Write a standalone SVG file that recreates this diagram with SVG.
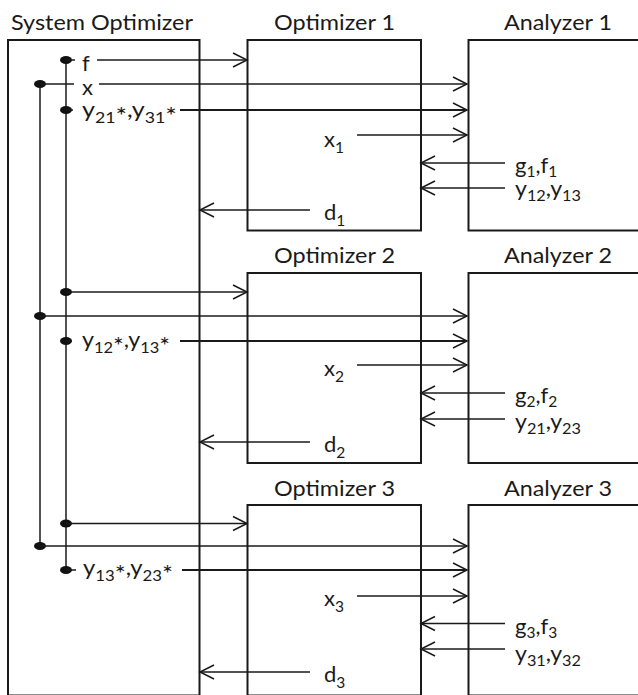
<svg xmlns="http://www.w3.org/2000/svg" width="638" height="695" viewBox="0 0 638 695">
<defs>
<style>
.box{fill:none;stroke:#1a1a1a;stroke-width:2}
.ln{fill:none;stroke:#1a1a1a;stroke-width:1.5}
.lnb{fill:none;stroke:#1a1a1a;stroke-width:2}
.arr{marker-end:url(#ah)}
.dot{fill:#111}
text{font-family:Lato,"Open Sans","Liberation Sans",sans-serif;font-size:21px;fill:#1a1a1a}
.lbl{font-size:22px}
.sub{font-size:15.5px}
.ast{font-size:24px}
</style>
<marker id="ah" markerUnits="userSpaceOnUse" markerWidth="18" markerHeight="18" viewBox="0 0 18 18" refX="16" refY="9" orient="auto" overflow="visible">
<path d="M2,2 L16,9 L2,16" fill="none" stroke="#1a1a1a" stroke-width="1.5"/>
</marker>
</defs>
<rect width="638" height="695" fill="#fff"/>

<g id="system-optimizer">
<rect class="box" x="8" y="40" width="191.5" height="655.5"/>
<text x="11" y="30" textLength="182" lengthAdjust="spacingAndGlyphs">System Optimizer</text>
<text class="lbl" x="82" y="71">f</text>
<text class="lbl" x="82" y="94.5">x</text>
<text class="lbl" x="82" y="116.5" textLength="95" lengthAdjust="spacingAndGlyphs">y<tspan class="sub" dy="6">21</tspan><tspan class="ast" dy="1">*</tspan><tspan dy="-7">,y</tspan><tspan class="sub" dy="6">31</tspan><tspan class="ast" dy="1">*</tspan></text>
<text class="lbl" x="82" y="347" textLength="88" lengthAdjust="spacingAndGlyphs">y<tspan class="sub" dy="6">12</tspan><tspan class="ast" dy="1">*</tspan><tspan dy="-7">,y</tspan><tspan class="sub" dy="6">13</tspan><tspan class="ast" dy="1">*</tspan></text>
<text class="lbl" x="83" y="575" textLength="90" lengthAdjust="spacingAndGlyphs">y<tspan class="sub" dy="6">13</tspan><tspan class="ast" dy="1">*</tspan><tspan dy="-7">,y</tspan><tspan class="sub" dy="6">23</tspan><tspan class="ast" dy="1">*</tspan></text>
</g>

<g id="optimizer-1">
<rect class="box" x="247.5" y="40" width="173.5" height="190.5"/>
<text x="274" y="30" textLength="121" lengthAdjust="spacingAndGlyphs">Optimizer 1</text>
<text class="lbl" x="324" y="146.5">x<tspan class="sub" dy="6">1</tspan></text>
<text class="lbl" x="324" y="220">d<tspan class="sub" dy="6">1</tspan></text>
</g>
<g id="analyzer-1">
<rect class="box" x="468.5" y="40" width="200" height="190.5"/>
<text x="504" y="30" textLength="108" lengthAdjust="spacingAndGlyphs">Analyzer 1</text>
<text class="lbl" x="515" y="172.5">g<tspan class="sub" dy="4">1</tspan><tspan dy="-4">,f</tspan><tspan class="sub" dy="4">1</tspan></text>
<text class="lbl" x="515" y="195.5" textLength="66" lengthAdjust="spacingAndGlyphs">y<tspan class="sub" dy="5">12</tspan><tspan dy="-5">,y</tspan><tspan class="sub" dy="5">13</tspan></text>
</g>

<g id="optimizer-2">
<rect class="box" x="247.5" y="273" width="173.5" height="190"/>
<text x="274" y="263" textLength="121" lengthAdjust="spacingAndGlyphs">Optimizer 2</text>
<text class="lbl" x="324" y="376">x<tspan class="sub" dy="6">2</tspan></text>
<text class="lbl" x="324" y="452">d<tspan class="sub" dy="6">2</tspan></text>
</g>
<g id="analyzer-2">
<rect class="box" x="468.5" y="273" width="200" height="190"/>
<text x="504" y="263" textLength="108" lengthAdjust="spacingAndGlyphs">Analyzer 2</text>
<text class="lbl" x="515" y="402.5">g<tspan class="sub" dy="4">2</tspan><tspan dy="-4">,f</tspan><tspan class="sub" dy="4">2</tspan></text>
<text class="lbl" x="515" y="428.5" textLength="66" lengthAdjust="spacingAndGlyphs">y<tspan class="sub" dy="5">21</tspan><tspan dy="-5">,y</tspan><tspan class="sub" dy="5">23</tspan></text>
</g>

<g id="optimizer-3">
<rect class="box" x="247.5" y="505" width="173.5" height="190.5"/>
<text x="274" y="495.5" textLength="121" lengthAdjust="spacingAndGlyphs">Optimizer 3</text>
<text class="lbl" x="324" y="606">x<tspan class="sub" dy="6">3</tspan></text>
<text class="lbl" x="324" y="682">d<tspan class="sub" dy="6">3</tspan></text>
</g>
<g id="analyzer-3">
<rect class="box" x="468.5" y="505" width="200" height="190.5"/>
<text x="504" y="495.5" textLength="108" lengthAdjust="spacingAndGlyphs">Analyzer 3</text>
<text class="lbl" x="515" y="633.5">g<tspan class="sub" dy="4">3</tspan><tspan dy="-4">,f</tspan><tspan class="sub" dy="4">3</tspan></text>
<text class="lbl" x="515" y="660.5" textLength="66" lengthAdjust="spacingAndGlyphs">y<tspan class="sub" dy="5">31</tspan><tspan dy="-5">,y</tspan><tspan class="sub" dy="5">32</tspan></text>
</g>

<g id="connectors">
<line class="ln" x1="40" y1="84" x2="40" y2="546"/>
<line class="ln" x1="66" y1="60" x2="66" y2="570"/>
<ellipse class="dot" cx="66" cy="60" rx="6" ry="4"/>
<ellipse class="dot" cx="40" cy="84" rx="6" ry="4"/>
<ellipse class="dot" cx="66" cy="110" rx="6" ry="4"/>
<ellipse class="dot" cx="66" cy="292" rx="6" ry="4"/>
<ellipse class="dot" cx="40" cy="316" rx="6" ry="4"/>
<ellipse class="dot" cx="66" cy="341" rx="6" ry="4"/>
<ellipse class="dot" cx="66" cy="523.5" rx="6" ry="4"/>
<ellipse class="dot" cx="40" cy="546" rx="6" ry="4"/>
<ellipse class="dot" cx="66" cy="570" rx="6" ry="4"/>

<line class="ln" x1="66" y1="60" x2="75" y2="60"/>
<line class="ln arr" x1="97" y1="60" x2="247" y2="60"/>
<line class="ln" x1="40" y1="84" x2="74" y2="84"/>
<line class="ln arr" x1="99" y1="84" x2="467" y2="84"/>
<line class="ln" x1="66" y1="110" x2="73" y2="110"/>
<line class="lnb arr" x1="180" y1="110" x2="467" y2="110"/>
<line class="ln arr" x1="357" y1="135" x2="467" y2="135"/>
<line class="ln arr" x1="505" y1="163" x2="421" y2="163"/>
<line class="ln arr" x1="505" y1="188" x2="421" y2="188"/>
<line class="ln arr" x1="310" y1="210" x2="200" y2="210"/>

<line class="ln arr" x1="66" y1="292" x2="247" y2="292"/>
<line class="ln arr" x1="40" y1="316" x2="467" y2="316"/>
<line class="ln" x1="66" y1="341" x2="72" y2="341"/>
<line class="lnb arr" x1="180" y1="341" x2="467" y2="341"/>
<line class="ln arr" x1="357" y1="365" x2="467" y2="365"/>
<line class="ln arr" x1="505" y1="393" x2="421" y2="393"/>
<line class="ln arr" x1="505" y1="419" x2="421" y2="419"/>
<line class="ln arr" x1="310" y1="442" x2="200" y2="442"/>

<line class="ln arr" x1="66" y1="523.5" x2="247" y2="523.5"/>
<line class="ln arr" x1="40" y1="546" x2="467" y2="546"/>
<line class="ln" x1="66" y1="570" x2="76" y2="570"/>
<line class="lnb arr" x1="182" y1="570" x2="467" y2="570"/>
<line class="ln arr" x1="357" y1="596" x2="467" y2="596"/>
<line class="ln arr" x1="505" y1="623.5" x2="421" y2="623.5"/>
<line class="ln arr" x1="505" y1="649" x2="421" y2="649"/>
<line class="ln arr" x1="310" y1="672" x2="200" y2="672"/>
</g>
</svg>
